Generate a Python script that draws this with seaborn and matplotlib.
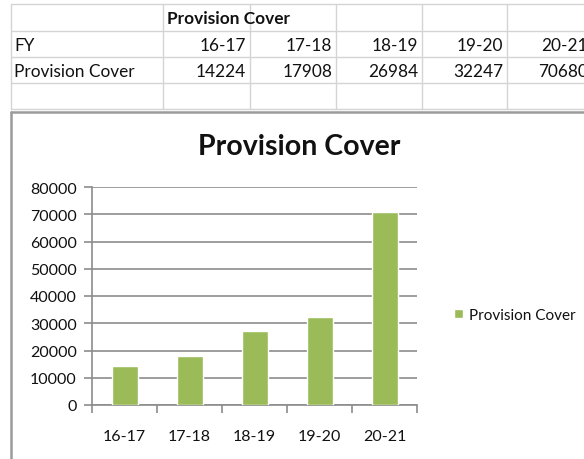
import matplotlib
matplotlib.use("Agg")
import matplotlib.pyplot as plt
import seaborn as sns
import pandas as pd
from matplotlib.lines import Line2D

fiscal_years = ["16-17", "17-18", "18-19", "19-20", "20-21"]
provision_cover = [14224, 17908, 26984, 32247, 70680]
series_name = "Provision Cover"
chart_title = "Provision Cover"
y_ticks = [0, 10000, 20000, 30000, 40000, 50000, 60000, 70000, 80000]

W, H = 584, 460
sns.set_theme(style="white")
plt.rcParams['font.family'] = ['Lato', 'DejaVu Sans']

fig = plt.figure(figsize=(W / 100, H / 100), dpi=100)

def fx(px):
    return px / W

def fy(py):
    return 1 - py / H

# ---- spreadsheet table ----
grid_c = "#D4D4D4"
col_edges = [11, 163, 250, 336, 422, 507, 592]
row_edges = [5, 32, 58, 84, 110]
for x in col_edges[:-1]:
    fig.add_artist(Line2D([fx(x), fx(x)], [fy(row_edges[0]), fy(row_edges[-1])],
                          color=grid_c, lw=1))
for y in row_edges:
    fig.add_artist(Line2D([fx(11), fx(584)], [fy(y), fy(y)], color=grid_c, lw=1))

tfs = 12.4
txt_c = "#111111"
fig.text(fx(col_edges[1] + 4), fy((row_edges[0] + row_edges[1]) / 2 + 1), series_name,
         fontsize=tfs, fontweight="bold", ha="left", va="center", color=txt_c)
fig.text(fx(14), fy((row_edges[1] + row_edges[2]) / 2 + 1), "FY",
         fontsize=tfs, ha="left", va="center", color=txt_c)
fig.text(fx(14), fy((row_edges[2] + row_edges[3]) / 2 + 1), series_name,
         fontsize=tfs, ha="left", va="center", color=txt_c)
for i, (fyr, val) in enumerate(zip(fiscal_years, provision_cover)):
    xr = col_edges[i + 2] - 4
    fig.text(fx(xr), fy((row_edges[1] + row_edges[2]) / 2 + 1), fyr,
             fontsize=tfs, ha="right", va="center", color=txt_c)
    fig.text(fx(xr), fy((row_edges[2] + row_edges[3]) / 2 + 1), str(val),
             fontsize=tfs, ha="right", va="center", color=txt_c)

# ---- chart frame ----
frame_c = "#9A9A9A"
fig.add_artist(Line2D([fx(11), fx(11)], [fy(113), fy(470)], color=frame_c, lw=1.8))
fig.add_artist(Line2D([fx(11), fx(590)], [fy(113), fy(113)], color=frame_c, lw=1.8))

fig.text(fx(299), fy(147), chart_title, fontsize=20.5, fontweight="bold",
         ha="center", va="center", color=txt_c)

# ---- chart ----
ax = fig.add_axes([fx(92), 1 - 406 / H, fx(417) - fx(92), (406 - 188) / H])
df = pd.DataFrame({"FY": fiscal_years, "value": provision_cover})
sns.barplot(data=df, x="FY", y="value", color="#9BBB59", width=0.4,
            saturation=1, ax=ax, label=series_name, zorder=3)
ax.set_xlim(-0.5, len(fiscal_years) - 0.5)
ax.set_ylim(0, 80000)
ax.set_yticks(y_ticks)
ax.set_yticklabels([str(t) for t in y_ticks])
ax.yaxis.grid(True, color="#8C8C8C", lw=1.2, zorder=0)
ax.xaxis.grid(False)
ax.set_xlabel("")
ax.set_ylabel("")
for s in ["top", "right"]:
    ax.spines[s].set_visible(False)
for s in ["left", "bottom"]:
    ax.spines[s].set_color("#8C8C8C")
    ax.spines[s].set_linewidth(1.2)
ax.tick_params(axis="y", which="major", length=6, width=1.2, color="#8C8C8C",
               direction="out", left=True, labelsize=11.5, labelcolor=txt_c, pad=5)
ax.tick_params(axis="x", which="major", length=0, labelsize=11.5,
               labelcolor=txt_c, pad=17)
ax.set_xticks([i - 0.5 for i in range(len(fiscal_years) + 1)], minor=True)
ax.tick_params(axis="x", which="minor", length=6, width=1.2, color="#8C8C8C",
               direction="out", bottom=True)

leg = ax.legend(loc="center left", bbox_to_anchor=(fx(446), fy(316)),
                bbox_transform=fig.transFigure, frameon=False, fontsize=11,
                handlelength=0.6, handleheight=0.6, handletextpad=0.4,
                borderpad=0, labelcolor=txt_c)

fig.savefig("out.png", dpi=100, facecolor="white")
